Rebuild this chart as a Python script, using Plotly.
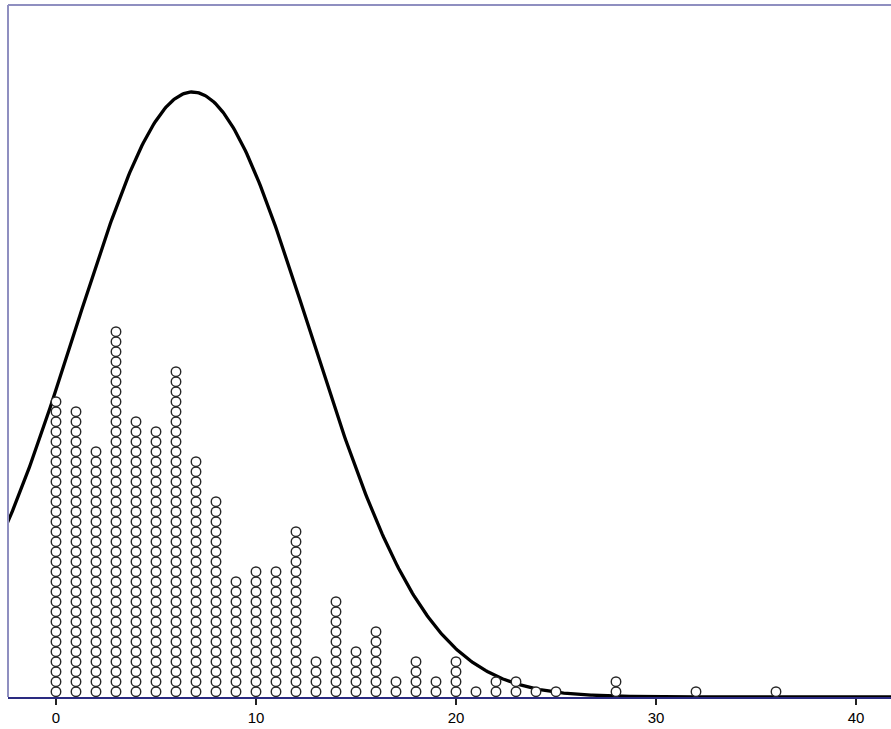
import numpy as np
import plotly.graph_objects as go

# Data: value -> number of stacked dots
values = [0, 1, 2, 3, 4, 5, 6, 7, 8, 9, 10, 11, 12, 13, 14, 15, 16, 17, 18, 19,
          20, 21, 22, 23, 24, 25, 28, 32, 36]
counts = [30, 29, 25, 37, 28, 27, 33, 24, 20, 12, 13, 13, 17, 4, 10, 5, 7, 2, 4, 2,
          4, 1, 2, 2, 1, 1, 2, 1, 1]
tick_vals = [0, 10, 20, 30, 40]
tick_text = ["0", "10", "20", "30", "40"]

# Normal curve from data mean / sd, scaled to dot units
curve_peak = 60.5

xs, ys = [], []
for v, c in zip(values, counts):
    for k in range(c):
        xs.append(v)
        ys.append(k + 0.53)

vals = np.repeat(values, counts)
mu = vals.mean()
sd = vals.std(ddof=1)
cx = np.linspace(-3, 42, 600)
cy = curve_peak * np.exp(-(cx - mu) ** 2 / (2 * sd ** 2))

fig = go.Figure()
fig.add_trace(go.Scatter(x=cx, y=cy, mode="lines",
                         line=dict(color="black", width=3.3), hoverinfo="skip"))
fig.add_trace(go.Scatter(x=xs, y=ys, mode="markers",
                         marker=dict(size=9.5, color="white", symbol="circle",
                                     line=dict(color="#262626", width=1.4))))

fig.update_layout(
    width=891, height=729,
    margin=dict(l=8, r=0, t=5, b=32),
    paper_bgcolor="white", plot_bgcolor="white",
    showlegend=False,
    font=dict(family="Liberation Sans, Arial, sans-serif", size=15, color="black"),
)
fig.update_xaxes(range=[-2.4, 41.75], tickvals=tick_vals, ticktext=tick_text,
                 showgrid=False, zeroline=False, showline=True, linecolor="#2a2a80",
                 linewidth=2, ticks="outside", ticklen=6, tickcolor="#222222",
                 tickwidth=1.5, tickfont=dict(size=15, color="black"))
fig.update_yaxes(range=[0, 69.2], showgrid=False, zeroline=False,
                 showticklabels=False, showline=False)
# frame: top and left borders
fig.add_shape(type="line", xref="paper", yref="paper", x0=0, x1=1, y0=1, y1=1,
              line=dict(color="#8f8fc0", width=2))
fig.add_shape(type="line", xref="paper", yref="paper", x0=0, x1=0, y0=0, y1=1,
              line=dict(color="#8f8fc0", width=2))

fig.write_html("out.html", config={"displayModeBar": False},
               post_script="document.body.style.margin='0';document.body.style.overflow='hidden';")
